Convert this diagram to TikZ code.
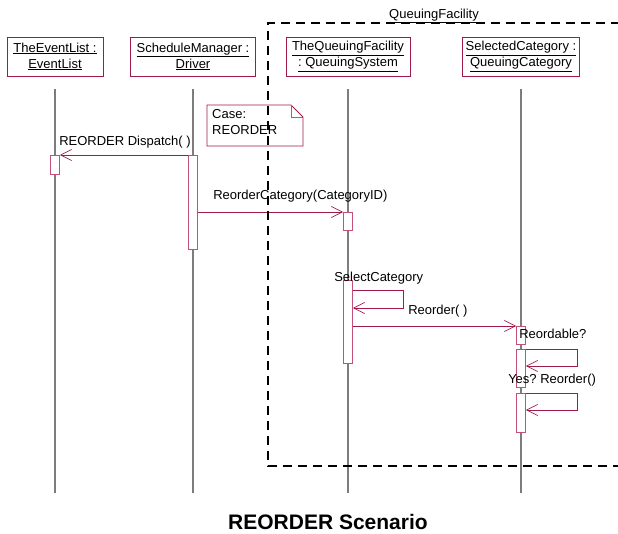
\documentclass[tikz,border=0pt]{standalone}
\usepackage{fontspec}
\setmainfont{Liberation Sans}
\usepackage{tikz}
\usetikzlibrary{positioning,arrows.meta,calc}
\definecolor{umlred}{RGB}{160,25,75}
\definecolor{actred}{RGB}{195,80,120}
\definecolor{lifegray}{RGB}{125,125,125}
\frenchspacing

\begin{document}
\begin{tikzpicture}[
  x=1pt, y=-1pt,
  >={Straight Barb[length=11pt,width=11pt]},
  every node/.style={font=\fontsize{13}{16}\selectfont},
  object/.style={draw=umlred, line width=0.9pt, minimum height=39pt, align=center, inner sep=0pt},
  lifeline/.style={draw=lifegray, line width=1.2pt},
  activation/.style={draw=actred, line width=0.8pt, fill=white, minimum width=9pt, inner sep=0pt, anchor=north},
  message/.style={->, draw=umlred, line width=0.7pt},
  msglabel/.style={anchor=base west, inner sep=0pt},
  frame/.style={line width=2pt, dash pattern=on 9pt off 6pt}
]
\useasboundingbox (0,0) rectangle (618,533);

% --- Objects ---
\node[object, minimum width=96pt] (el) at (55,56.5) {\underline{TheEventList :}\\\underline{EventList}};
\node[object, minimum width=125pt] (sm) at (193,56.5) {\underline{ScheduleManager :}\\\underline{Driver}};
\node[object, minimum width=124pt] (qf) at (348,56.5) {\underline{TheQueuingFacility}\\\underline{: QueuingSystem}};
\node[object, minimum width=117pt] (sc) at (521,56.5) {\underline{SelectedCategory :}\\\underline{QueuingCategory}};

% --- Lifelines ---
\coordinate (lifeEnd) at (0,493);
\foreach \obj in {el,sm,qf,sc}
  \draw[lifeline] ($(\obj.south)+(0,13)$) -- (\obj.south |- lifeEnd);

% --- Activations ---
\node[activation, minimum height=19pt] (elAct) at (55,155) {};
\node[activation, minimum height=94pt] (smAct) at (193,155) {};
\node[activation, minimum height=18pt] (qfAct1) at (348,212) {};
\node[activation, minimum height=83pt] (qfAct2) at (348,280) {};
\node[activation, minimum height=18pt] (scAct1) at (521,326) {};
\node[activation, minimum height=38pt] (scAct2) at (521,349) {};
\node[activation, minimum height=39pt] (scAct3) at (521,393) {};

% --- Messages ---
\draw[message] (smAct.north west) -- (elAct.north east)
  node[msglabel, at end, xshift=-1pt, yshift=10pt] {REORDER Dispatch( )};
\draw[message] (smAct.east |- qfAct1.north) -- (qfAct1.north west)
  node[msglabel, at start, xshift=15pt, yshift=13pt] {ReorderCategory(CategoryID)};
\draw[message] ($(qfAct2.north east)+(0,10)$)
  node[msglabel, xshift=-19pt, yshift=8.5pt] {SelectCategory}
  -- ++(50,0) -- ++(0,18) -- ($(qfAct2.north east)+(0,28)$);
\draw[message] (qfAct2.east |- scAct1.north)
  node[msglabel, xshift=55pt, yshift=12pt] {Reorder( )}
  -- (scAct1.north west);
\draw[message] (scAct2.north east)
  node[msglabel, xshift=-7pt, yshift=11pt] {Reordable?}
  -- ++(51,0) -- ++(0,17) -- ($(scAct2.north east)+(0,17)$);
\draw[message] (scAct3.north east)
  node[msglabel, xshift=-18pt, yshift=10pt] {Yes? Reorder()}
  -- ++(51,0) -- ++(0,17) -- ($(scAct3.north east)+(0,17)$);

% --- Note ---
\node[anchor=north west, align=left, text width=86pt,
      inner xsep=5pt, inner ysep=4.5pt] (note) at (207,105) {Case:\\REORDER};
\draw[umlred, line width=0.9pt] (note.north west) -- ++(84,0) -- ++(12,12)
  -- ++(0,29) -- ++(-96,0) -- cycle;
\draw[actred, line width=0.8pt] ($(note.north west)+(84,0)$) -- ++(0,12) -- ++(12,0);

% --- QueuingFacility frame ---
\node[anchor=base] (frameLbl) at (434,18.5) {\underline{QueuingFacility}};
\draw[frame] (620,23) -- (268,23) -- (268,466) -- (620,466);

% --- Title ---
\node[font=\fontsize{21}{25}\selectfont\bfseries] (title) at (328,521.5) {REORDER Scenario};

\end{tikzpicture}
\end{document}
